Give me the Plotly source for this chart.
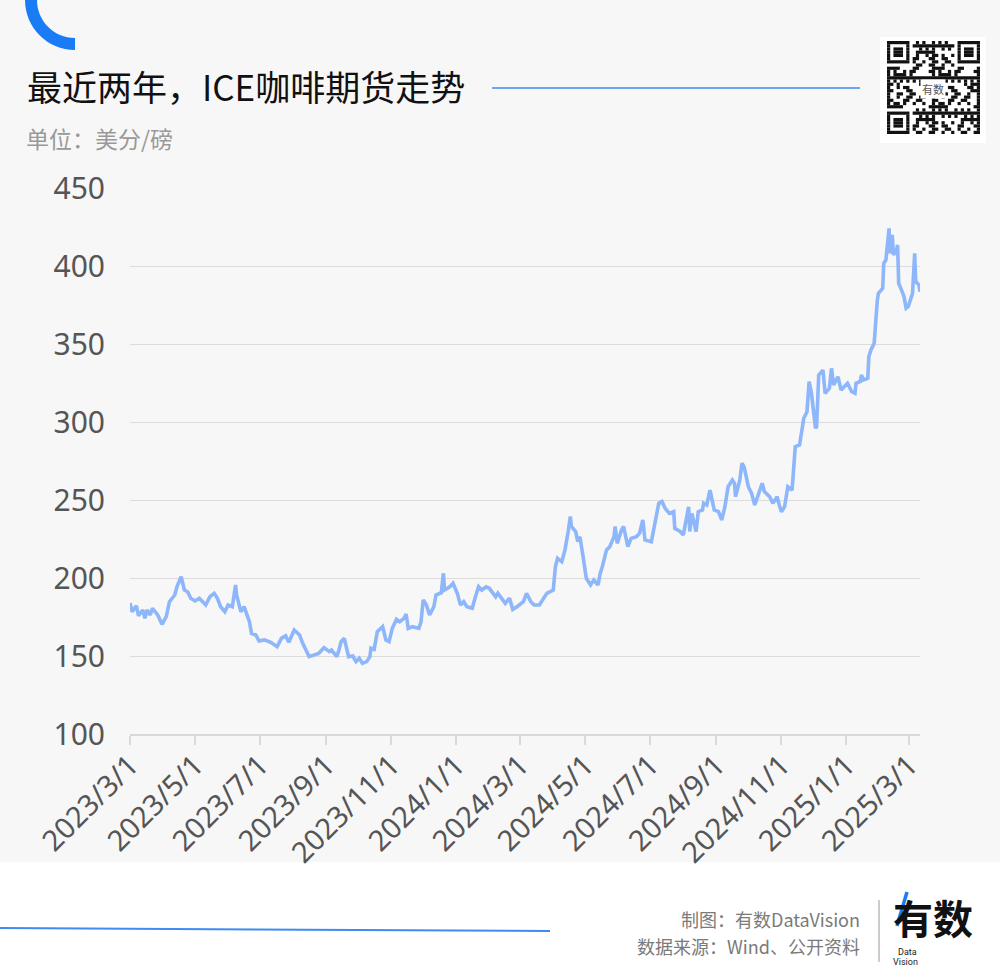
import plotly.graph_objects as go

# ---------------- data ----------------
dates = [
    "2023-03-01", "2023-03-03", "2023-03-07", "2023-03-09", "2023-03-13", "2023-03-15", "2023-03-17",
    "2023-03-20", "2023-03-22", "2023-03-27", "2023-03-31", "2023-04-04", "2023-04-07", "2023-04-12",
    "2023-04-14", "2023-04-18", "2023-04-21", "2023-04-24", "2023-04-27", "2023-05-01", "2023-05-05",
    "2023-05-08", "2023-05-11", "2023-05-15", "2023-05-19", "2023-05-22", "2023-05-25", "2023-05-29",
    "2023-06-01", "2023-06-05", "2023-06-08", "2023-06-09", "2023-06-13", "2023-06-16", "2023-06-21",
    "2023-06-23", "2023-06-27", "2023-06-30", "2023-07-05", "2023-07-11", "2023-07-17", "2023-07-21",
    "2023-07-25", "2023-07-28", "2023-08-02", "2023-08-07", "2023-08-10", "2023-08-16", "2023-08-21",
    "2023-08-25", "2023-08-30", "2023-09-04", "2023-09-06", "2023-09-11", "2023-09-13", "2023-09-15",
    "2023-09-18", "2023-09-21", "2023-09-22", "2023-09-26", "2023-09-29", "2023-10-02", "2023-10-05",
    "2023-10-09", "2023-10-12", "2023-10-13", "2023-10-16", "2023-10-19", "2023-10-24", "2023-10-27",
    "2023-10-30", "2023-11-02", "2023-11-06", "2023-11-09", "2023-11-13", "2023-11-15", "2023-11-17",
    "2023-11-21", "2023-11-27", "2023-11-29", "2023-12-01", "2023-12-04", "2023-12-07", "2023-12-11",
    "2023-12-13", "2023-12-18", "2023-12-19", "2023-12-20", "2023-12-21", "2023-12-26", "2023-12-29",
    "2024-01-02", "2024-01-05", "2024-01-08", "2024-01-11", "2024-01-16", "2024-01-19", "2024-01-22",
    "2024-01-25", "2024-01-29", "2024-02-01", "2024-02-05", "2024-02-07", "2024-02-09", "2024-02-13",
    "2024-02-16", "2024-02-20", "2024-02-23", "2024-02-27", "2024-03-04", "2024-03-07", "2024-03-11",
    "2024-03-14", "2024-03-19", "2024-03-22", "2024-03-26", "2024-03-29", "2024-04-01", "2024-04-03",
    "2024-04-05", "2024-04-09", "2024-04-12", "2024-04-15", "2024-04-17", "2024-04-18", "2024-04-22",
    "2024-04-24", "2024-04-26", "2024-04-29", "2024-05-02", "2024-05-06", "2024-05-09", "2024-05-13",
    "2024-05-15", "2024-05-17", "2024-05-21", "2024-05-24", "2024-05-28", "2024-05-29", "2024-05-31",
    "2024-06-04", "2024-06-06", "2024-06-10", "2024-06-13", "2024-06-18", "2024-06-21", "2024-06-24",
    "2024-06-26", "2024-07-02", "2024-07-05", "2024-07-09", "2024-07-12", "2024-07-15", "2024-07-19",
    "2024-07-23", "2024-07-24", "2024-07-29", "2024-08-01", "2024-08-06", "2024-08-07", "2024-08-09",
    "2024-08-13", "2024-08-15", "2024-08-19", "2024-08-20", "2024-08-23", "2024-08-26", "2024-08-28",
    "2024-08-30", "2024-09-03", "2024-09-06", "2024-09-09", "2024-09-12", "2024-09-16", "2024-09-18",
    "2024-09-19", "2024-09-23", "2024-09-25", "2024-09-27", "2024-10-01", "2024-10-04", "2024-10-07",
    "2024-10-10", "2024-10-14", "2024-10-16", "2024-10-21", "2024-10-24", "2024-10-28", "2024-10-30",
    "2024-11-01", "2024-11-04", "2024-11-07", "2024-11-11", "2024-11-14", "2024-11-18", "2024-11-20",
    "2024-11-22", "2024-11-25", "2024-11-27", "2024-11-29", "2024-12-03", "2024-12-04", "2024-12-06",
    "2024-12-10", "2024-12-12", "2024-12-16", "2024-12-18", "2024-12-20", "2024-12-24", "2024-12-27",
    "2025-01-02", "2025-01-06", "2025-01-09", "2025-01-10", "2025-01-14", "2025-01-15", "2025-01-17",
    "2025-01-21", "2025-01-22", "2025-01-24", "2025-01-27", "2025-01-30", "2025-01-31", "2025-02-04",
    "2025-02-05", "2025-02-07", "2025-02-10", "2025-02-11", "2025-02-13", "2025-02-14", "2025-02-17",
    "2025-02-18", "2025-02-19", "2025-02-21", "2025-02-24", "2025-02-26", "2025-02-28", "2025-03-04",
    "2025-03-06", "2025-03-07", "2025-03-10", "2025-03-11",
]
prices = [
    184.0, 178.4, 182.2, 175.8, 179.5, 174.2, 179.5,
    176.3, 180.6, 176.3, 170.3, 175.2, 184.8, 189.1,
    194.4, 200.8, 192.3, 191.2, 187.0, 185.3, 187.0,
    184.4, 182.7, 188.0, 190.2, 187.0, 181.6, 178.4,
    182.7, 181.6, 195.5, 189.1, 178.4, 181.6, 172.0,
    164.5, 163.5, 159.6, 160.3, 158.8, 156.0, 161.3,
    163.0, 158.8, 166.7, 163.5, 158.1, 149.6, 151.1,
    151.7, 155.3, 152.8, 153.8, 149.6, 153.8, 159.2,
    161.3, 153.8, 149.6, 150.0, 146.4, 148.5, 145.3,
    146.4, 149.6, 155.0, 154.3, 165.6, 168.8, 160.3,
    159.2, 167.7, 173.5, 172.0, 174.1, 176.9, 167.7,
    168.8, 167.7, 172.0, 185.9, 182.7, 176.3, 181.6,
    189.1, 190.6, 196.6, 203.0, 192.3, 194.4, 196.6,
    190.2, 182.7, 184.8, 181.6, 180.6, 188.0, 194.4,
    192.3, 194.4, 193.4, 190.2, 188.0, 190.2, 187.0,
    183.8, 187.0, 179.9, 181.6, 184.8, 190.2, 184.8,
    182.7, 182.7, 186.0, 190.2, 191.2, 192.3, 207.2,
    212.6, 210.5, 218.0, 229.8, 239.4, 233.0, 229.8,
    223.3, 226.5, 213.7, 199.8, 195.5, 198.7, 195.5,
    203.0, 207.2, 218.0, 220.1, 226.5, 233.0, 222.2,
    230.8, 233.0, 220.1, 225.4, 226.5, 228.7, 237.2,
    224.4, 223.3, 233.0, 247.9, 249.0, 244.6, 241.4,
    242.5, 231.8, 229.8, 227.6, 245.7, 229.8, 241.4,
    229.8, 242.5, 243.6, 247.9, 246.8, 256.4, 250.0,
    243.6, 242.5, 237.2, 245.7, 258.5, 262.8, 260.7,
    252.1, 262.8, 273.5, 271.4, 258.5, 254.3, 246.8,
    252.1, 260.7, 255.4, 252.1, 247.9, 252.1, 246.8,
    242.5, 245.7, 258.5, 256.4, 284.2, 285.3, 294.9,
    302.4, 306.6, 325.8, 319.4, 296.0, 297.0, 330.1,
    333.3, 318.4, 321.6, 334.4, 323.7, 329.0, 320.5,
    324.8, 319.4, 318.4, 324.8, 326.0, 330.1, 326.9,
    328.0, 341.9, 346.2, 350.4, 378.2, 382.5, 385.7,
    401.7, 403.8, 424.1, 408.1, 419.9, 407.1, 410.3,
    413.5, 388.9, 385.7, 380.4, 372.9, 374.0, 382.5,
    408.1, 390.0, 387.8, 383.5,
]
tick_dates = ["2023-03-01", "2023-05-01", "2023-07-01", "2023-09-01", "2023-11-01", "2024-01-01",
              "2024-03-01", "2024-05-01", "2024-07-01", "2024-09-01", "2024-11-01", "2025-01-01",
              "2025-03-01"]
tick_labels = ["2023/3/1", "2023/5/1", "2023/7/1", "2023/9/1", "2023/11/1", "2024/1/1",
               "2024/3/1", "2024/5/1", "2024/7/1", "2024/9/1", "2024/11/1", "2025/1/1",
               "2025/3/1"]
y_ticks = [100, 150, 200, 250, 300, 350, 400, 450]

title_text = "最近两年，ICE咖啡期货走势"
unit_text = "单位：美分/磅"
credit_text = "制图：有数DataVision"
source_text = "数据来源：Wind、公开资料"

# ---------------- layout helpers ----------------
W, H = 1000, 969
L, R, T, B = 130, 80, 188, 235
PW, PH = W - L - R, H - T - B


def px(x):
    return (x - L) / PW


def py(y):
    return (H - B - y) / PH


CJK = "Noto Sans CJK SC"
LINE_COLOR = "#8DB6FB"
BLUE = "#1A7CF5"

fig = go.Figure()
fig.add_trace(go.Scatter(
    x=dates, y=prices, mode="lines",
    line=dict(color=LINE_COLOR, width=3.6),
    hoverinfo="x+y", showlegend=False,
))

shapes = []
# light grey page background (upper part)
shapes.append(dict(type="rect", xref="paper", yref="paper", x0=px(0), x1=px(W), y0=py(862), y1=py(0),
                   fillcolor="#F7F7F7", line=dict(width=0), layer="below"))

# blue quarter ring in the top-left corner
k = 0.5523
cx, cy, Ro, Ri = 75, 0, 50, 38
pts = [
    ("M", [(cx - Ro, cy - 6)]),
    ("L", [(cx - Ro, cy)]),
    ("C", [(cx - Ro, cy + Ro * k), (cx - Ro * k, cy + Ro), (cx, cy + Ro)]),
    ("L", [(cx, cy + Ri)]),
    ("C", [(cx - Ri * k, cy + Ri), (cx - Ri, cy + Ri * k), (cx - Ri, cy)]),
    ("L", [(cx - Ri, cy - 6)]),
]
path = ""
for cmd, plist in pts:
    path += cmd + " " + " ".join(f"{px(a):.5f},{py(b):.5f}" for a, b in plist) + " "
path += "Z"
shapes.append(dict(type="path", xref="paper", yref="paper", path=path, fillcolor=BLUE,
                   line=dict(width=0)))

# title rule
shapes.append(dict(type="line", xref="paper", yref="paper", x0=px(492), x1=px(860), y0=py(88), y1=py(88),
                   line=dict(color="#3C8CF2", width=1.5)))
# bottom-left rule
shapes.append(dict(type="line", xref="paper", yref="paper", x0=px(0), x1=px(550), y0=py(928), y1=py(931),
                   line=dict(color="#3C8CF2", width=2)))
# footer separator
shapes.append(dict(type="line", xref="paper", yref="paper", x0=px(879), x1=px(879), y0=py(900), y1=py(962),
                   line=dict(color="#9A9A9A", width=1)))
# logo slash
shapes.append(dict(type="line", xref="paper", yref="paper", x0=px(907), x1=px(897), y0=py(892), y1=py(926),
                   line=dict(color=BLUE, width=3.5)))

# QR-code-like decoration
qx0, qy0, qsize = 880, 37, 106
shapes.append(dict(type="rect", xref="paper", yref="paper", x0=px(qx0), x1=px(qx0 + qsize),
                   y0=py(qy0 + qsize), y1=py(qy0), fillcolor="white", line=dict(width=0)))
N = 29
m = 93 / N
ox, oy = 887, 41


def dark(i, j):
    for fi, fj in ((0, 0), (0, N - 7), (N - 7, 0)):
        if fi <= i < fi + 7 and fj <= j < fj + 7:
            a, b = i - fi, j - fj
            if a in (0, 6) or b in (0, 6):
                return True
            if 2 <= a <= 4 and 2 <= b <= 4:
                return True
            return False
    for fi, fj in ((0, 0), (0, N - 8), (N - 8, 0)):
        if fi <= i < fi + 8 and fj <= j < fj + 8:
            return False
    if 12 <= i <= 16 and 11 <= j <= 17:
        return False
    return ((i * 7 + j * 11 + i * j * 3 + (i // 3) * (j // 2)) % 7) < 3


for i in range(N):
    j = 0
    while j < N:
        if dark(i, j):
            s = j
            while j < N and dark(i, j):
                j += 1
            shapes.append(dict(type="rect", xref="paper", yref="paper",
                               x0=px(ox + s * m), x1=px(ox + j * m),
                               y0=py(oy + (i + 1) * m), y1=py(oy + i * m),
                               fillcolor="#111", line=dict(width=0)))
        else:
            j += 1

annotations = [
    dict(text=title_text, x=px(25), y=py(85), xref="paper", yref="paper", xanchor="left", yanchor="middle",
         showarrow=False, font=dict(family=CJK, size=35, color="#111111")),
    dict(text=unit_text, x=px(24), y=py(138), xref="paper", yref="paper", xanchor="left", yanchor="middle",
         showarrow=False, font=dict(family=CJK, size=23, color="#999999")),
    dict(text=credit_text, x=px(862), y=py(919), xref="paper", yref="paper", xanchor="right", yanchor="middle",
         showarrow=False, font=dict(family=CJK, size=18, color="#7A7A7A")),
    dict(text=source_text, x=px(862), y=py(946), xref="paper", yref="paper", xanchor="right", yanchor="middle",
         showarrow=False, font=dict(family=CJK, size=18, color="#7A7A7A")),
    dict(text="<b>有数</b>", x=px(891), y=py(917), xref="paper", yref="paper", xanchor="left", yanchor="middle",
         showarrow=False, font=dict(family=CJK, size=40, color="#111111")),
    dict(text="Data", x=px(907), y=py(952), xref="paper", yref="paper", xanchor="center",
         yanchor="middle", showarrow=False,
         font=dict(family="Roboto", size=9, color="#222222")),
    dict(text="Vision", x=px(905), y=py(962), xref="paper", yref="paper", xanchor="center",
         yanchor="middle", showarrow=False,
         font=dict(family="Roboto", size=9, color="#222222")),
    dict(text="有数", x=px(933), y=py(89), xref="paper", yref="paper", xanchor="center", yanchor="middle",
         showarrow=False, bgcolor="white", font=dict(family=CJK, size=11, color="#555")),
]

fig.update_layout(
    width=W, height=H,
    margin=dict(l=L, r=R, t=T, b=B),
    paper_bgcolor="white",
    plot_bgcolor="rgba(0,0,0,0)",
    showlegend=False,
    shapes=shapes,
    annotations=annotations,
    xaxis=dict(
        type="date", range=["2023-03-01", "2025-03-11"],
        tickvals=tick_dates, ticktext=tick_labels, tickangle=-45,
        showgrid=False, showline=True, linecolor="#D9D9D9", linewidth=1.5,
        ticks="outside", ticklen=9, tickcolor="#D9D9D9", tickwidth=1.5,
        ticklabelstandoff=-8,
        tickfont=dict(family="Noto Sans", size=29, color="#555555"),
        zeroline=False, fixedrange=True,
    ),
    yaxis=dict(
        range=[100, 450], tickvals=y_ticks,
        showgrid=True, gridcolor="#DCDCDC", gridwidth=1.2,
        showline=False, zeroline=False, ticks="",
        ticklabelstandoff=24,
        tickfont=dict(family="Noto Sans", size=30, color="#555555"),
        fixedrange=True,
    ),
)

fig.write_html("out.html", config={"displayModeBar": False},
               post_script="document.body.style.margin='0';document.body.style.overflow='hidden';")
